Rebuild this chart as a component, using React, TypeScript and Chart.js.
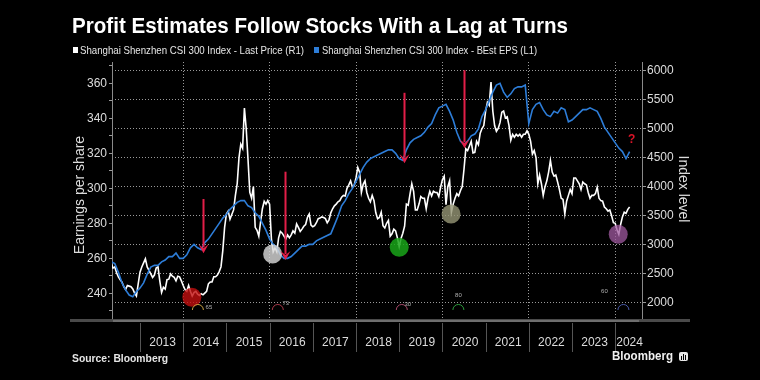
import React, { useEffect, useLayoutEffect, useRef } from "react";
import { Chart, registerables } from "chart.js";

Chart.register(...registerables);

// ---------- DATA ----------
// Semi-monthly price observations (1st and 16th of each month), from May 2012 to May 2024
const priceStart = 2012 + 4 / 12;
const priceStep = 1 / 24;
const priceValues = [
  // 2012 May-Dec
  2680, 2600, 2620, 2520, 2450, 2400, 2360, 2280, 2230, 2300, 2290, 2280, 2240, 2170, 2120, 2330,
  // 2013
  2530, 2620, 2690, 2760, 2620, 2560, 2500, 2440, 2480, 2600, 2620, 2380,
  2180, 2270, 2240, 2400, 2410, 2500, 2460, 2440, 2380, 2460, 2450, 2380,
  // 2014
  2300, 2230, 2200, 2300, 2200, 2120, 2180, 2200, 2150, 2130, 2160, 2140,
  2170, 2200, 2330, 2360, 2360, 2450, 2450, 2480, 2540, 2620, 2900, 3300,
  // 2015
  3530, 3580, 3440, 3520, 3600, 3850, 4050, 4500, 4730, 4660, 5350, 5000,
  4470, 3900, 3800, 4000, 3300, 3250, 3150, 3400, 3620, 3750, 3700, 3760,
  // 2016
  3700, 3100, 2880, 2950, 2880, 3120, 3230, 3200, 3150, 3100, 3170, 3120,
  3170, 3240, 3200, 3360, 3300, 3230, 3270, 3320, 3350, 3470, 3530, 3340,
  // 2017
  3310, 3330, 3380, 3450, 3460, 3480, 3470, 3450, 3380, 3430, 3550, 3620,
  3670, 3700, 3740, 3760, 3820, 3850, 3840, 3970, 4030, 4100, 3990, 4020,
  // 2018
  4150, 4330, 4250, 3900, 4040, 4100, 3900, 3800, 3740, 3850, 3760, 3550,
  3450, 3470, 3560, 3330, 3290, 3370, 3420, 3150, 3190, 3270, 3240, 3120,
  // 2019
  2970, 3110, 3200, 3320, 3700, 3680, 3870, 4050, 3920, 3600, 3600, 3700,
  3830, 3800, 3800, 3620, 3800, 3920, 3840, 3920, 3900, 3900, 3830, 3990,
  // 2020
  4120, 4180, 3690, 4000, 4100, 3560, 3700, 3800, 3880, 3840, 3930, 4000,
  4300, 4650, 4620, 4700, 4780, 4580, 4590, 4780, 4720, 4920, 5000, 5050,
  // 2021
  5300, 5450, 5400, 5800, 5300, 5050, 4950, 5000, 5100, 5280, 5300, 5180,
  5200, 5050, 4800, 4900, 4850, 4900, 4870, 4900, 4850, 4900, 4900, 4960,
  // 2022
  4900, 4780, 4560, 4620, 4500, 4050, 4200, 4050, 3850, 4000, 4100, 4250,
  4450, 4250, 4180, 4200, 4080, 3950, 3800, 3780, 3530, 3750, 3850, 3950,
  // 2023
  3880, 4150, 4150, 4100, 4050, 3950, 4080, 4050, 4030, 3900, 3800, 3850,
  3850, 3880, 3990, 3800, 3760, 3750, 3650, 3620, 3580, 3600, 3500, 3380,
  // 2024 Jan-Apr + May 1
  3370, 3260, 3180, 3350, 3480, 3560, 3540, 3610, 3650,
];

// Monthly best EPS estimates, May 2012 to May 2024
const epsStart = 2012 + 4 / 12;
const epsStep = 1 / 12;
const epsValues = [
  258, 257, 252, 246, 242, 239, 238, 241,
  243, 246, 251, 255, 256, 256, 258, 259, 261, 261, 263, 260,
  260, 262, 266, 268, 266, 265, 269, 271, 274, 277, 280, 283,
  285, 288, 290, 292, 293, 293, 290, 289, 286, 284, 280, 276,
  271, 268, 266, 262, 260, 260, 261, 263, 265, 267, 267, 268,
  268, 270, 271, 272, 273, 274, 279, 284, 290, 293, 297, 300,
  304, 308, 312, 315, 317, 318, 319, 320, 321, 322, 322, 320,
  317, 316, 322, 326, 328, 329, 330, 332, 335, 337, 342, 346,
  347, 348, 344, 339, 332, 327, 325, 327, 330, 331, 334, 341,
  345, 350, 355, 359, 360, 355, 352, 354, 357, 358, 358, 359,
  337, 345, 348, 349, 345, 342, 341, 344, 343, 346, 345, 338,
  339, 341, 343, 345, 345, 346, 345, 344, 340, 335, 332, 329,
  326, 323, 321, 317, 321,
];

const yearLabels = ["2013", "2014", "2015", "2016", "2017", "2018", "2019", "2020", "2021", "2022", "2023", "2024"];
const epsTicks = [230, 240, 250, 260, 270, 280, 290, 300, 310, 320, 330, 340, 350, 360, 370];
const priceTicks = [2000, 2500, 3000, 3500, 4000, 4500, 5000, 5500, 6000];
const xGridYears = [2014, 2016, 2018, 2020, 2022, 2024];

const seriesNames = [
  "Shanghai Shenzhen CSI 300 Index - Last Price (R1)",
  "Shanghai Shenzhen CSI 300 Index - BEst EPS (L1)",
];

// Annotations (in data units)
const troughDates = [2014.2, 2016.07, 2019.0, 2020.2, 2024.07];
const troughLevels = [2098, 2842, 2957, 3530, 3181];
const troughColors = [
  "rgba(195,15,15,0.8)",
  "rgba(215,215,215,0.82)",
  "rgba(25,165,25,0.85)",
  "rgba(150,150,118,0.8)",
  "rgba(160,90,160,0.75)",
];

const arrowDates = [2014.456, 2016.356, 2019.118, 2020.5];
const arrowFromEps = [293.9, 309.5, 354.6, 367.5];
const arrowToEps = [262.9, 259, 314.3, 322.9];

const cycleDates = [2014.34, 2016.19, 2019.06, 2020.37, 2024.19];
const cycleLabels = ["65", "73", "30", "80", "60"];
const cycleColors = ["#c9a040", "#a83848", "#a84868", "#2c9c3c", "#4a5aa8"];

const questionDate = 2024.38;
const questionEps = 327.6;

// ---------- CHART ----------
const FONT = "'Liberation Sans', Arial, sans-serif";
const GRID = "#9a9a9a";

function FitText(props: { text: string; left: number; top: number; width: number; style: any }) {
  const ref = useRef<HTMLSpanElement>(null);
  useLayoutEffect(() => {
    const el = ref.current;
    if (!el) return;
    el.style.transform = "none";
    const w = el.getBoundingClientRect().width;
    if (w > 0) el.style.transform = `scaleX(${props.width / w})`;
  }, []);
  return (
    <span
      ref={ref}
      style={{
        position: "absolute",
        left: props.left,
        top: props.top,
        whiteSpace: "nowrap",
        transformOrigin: "0 0",
        ...props.style,
      }}
    >
      {props.text}
    </span>
  );
}

export default function App() {
  const canvasRef = useRef<HTMLCanvasElement>(null);

  useEffect(() => {
    document.body.style.margin = "0";
    document.body.style.background = "#000";
    const canvas = canvasRef.current;
    if (!canvas) return;

    const priceData = priceValues.map((v, i) => ({ x: priceStart + i * priceStep, y: v }));
    const epsData = epsValues.map((v, i) => ({ x: epsStart + i * epsStep, y: v }));

    const overlay = {
      id: "overlay",
      afterDatasetsDraw(chart: any) {
        const { ctx, scales } = chart;
        const xs = scales.x, yl = scales.yL, yr = scales.yR;
        ctx.save();
        // trough circles
        troughDates.forEach((t, i) => {
          ctx.beginPath();
          ctx.arc(xs.getPixelForValue(t), yr.getPixelForValue(troughLevels[i]), 9.5, 0, Math.PI * 2);
          ctx.fillStyle = troughColors[i];
          ctx.fill();
        });
        // arrows
        ctx.strokeStyle = "rgb(226,30,72)";
        ctx.fillStyle = "rgb(226,30,72)";
        arrowDates.forEach((t, i) => {
          const x = Math.round(xs.getPixelForValue(t)) + 0.5;
          const y1 = yl.getPixelForValue(arrowFromEps[i]);
          const y2 = yl.getPixelForValue(arrowToEps[i]);
          ctx.lineWidth = 2;
          ctx.beginPath();
          ctx.moveTo(x, y1);
          ctx.lineTo(x, y2 - 6);
          ctx.stroke();
          ctx.beginPath();
          ctx.moveTo(x - 5, y2 - 9);
          ctx.lineTo(x, y2);
          ctx.lineTo(x + 5, y2 - 9);
          ctx.lineTo(x, y2 - 5);
          ctx.closePath();
          ctx.fill();
        });
        // cycle arcs
        const arcY = yr.getPixelForValue(1880);
        const labelOffsets = [[11, 0], [8, -4], [6, -3], [0, -12], [-19, -16]];
        cycleDates.forEach((t, i) => {
          const x = xs.getPixelForValue(t);
          ctx.beginPath();
          ctx.arc(x, arcY, 5.5, Math.PI, 0);
          ctx.strokeStyle = cycleColors[i];
          ctx.lineWidth = 1;
          ctx.stroke();
          ctx.fillStyle = "#b0b0b0";
          ctx.font = `6px ${FONT}`;
          ctx.textAlign = "center";
          ctx.textBaseline = "middle";
          ctx.fillText(cycleLabels[i], x + labelOffsets[i][0], arcY - 3 + labelOffsets[i][1]);
        });
        // question mark
        ctx.fillStyle = "rgb(220,20,40)";
        ctx.font = `bold 12px ${FONT}`;
        ctx.textAlign = "center";
        ctx.textBaseline = "middle";
        ctx.fillText("?", xs.getPixelForValue(questionDate), yl.getPixelForValue(questionEps));
        ctx.restore();
      },
      afterDraw(chart: any) {
        const { ctx, scales, chartArea } = chart;
        const xs = scales.x;
        ctx.save();
        // bottom bar
        ctx.fillStyle = "#4a4a4a";
        ctx.fillRect(70, chartArea.bottom + 1, 620, 3);
        ctx.fillStyle = "#6e6e6e";
        ctx.fillRect(chartArea.left + 1, chartArea.bottom + 2, chartArea.right - chartArea.left - 4, 2);
        // year separators and labels
        ctx.font = `12px ${FONT}`;
        ctx.fillStyle = "#dcdcdc";
        ctx.textAlign = "center";
        ctx.textBaseline = "middle";
        yearLabels.forEach((lab) => {
          const y = Number(lab);
          const x0 = xs.getPixelForValue(y);
          const x1 = Math.min(xs.getPixelForValue(y + 1), chartArea.right);
          ctx.strokeStyle = "#555";
          ctx.lineWidth = 1;
          ctx.beginPath();
          ctx.moveTo(Math.round(x0) + 0.5, chartArea.bottom + 5);
          ctx.lineTo(Math.round(x0) + 0.5, chartArea.bottom + 34);
          ctx.stroke();
          ctx.fillText(lab, (x0 + x1) / 2 + 1, chartArea.bottom + 25);
        });
        // axis titles
        ctx.font = `14px ${FONT}`;
        ctx.fillStyle = "#dcdcdc";
        ctx.save();
        ctx.translate(80, 195);
        ctx.rotate(-Math.PI / 2);
        ctx.fillText("Earnings per share", 0, 0);
        ctx.restore();
        ctx.save();
        ctx.translate(683, 189);
        ctx.rotate(Math.PI / 2);
        ctx.fillText("Index level", 0, 0);
        ctx.restore();
        ctx.restore();
      },
    };

    const chart = new Chart(canvas, {
      type: "line",
      data: {
        datasets: [
          {
            label: seriesNames[1],
            data: epsData,
            yAxisID: "yL",
            borderColor: "#2d7dd8",
            borderWidth: 1.6,
            pointRadius: 0,
            tension: 0,
            order: 0,
          },
          {
            label: seriesNames[0],
            data: priceData,
            yAxisID: "yR",
            borderColor: "#ffffff",
            borderWidth: 1.6,
            pointRadius: 0,
            tension: 0,
            order: 1,
          },
        ],
      },
      options: {
        responsive: false,
        animation: false,
        devicePixelRatio: 1,
        layout: { padding: { top: 62, left: 0, right: 0, bottom: 0 } },
        plugins: { legend: { display: false }, tooltip: { enabled: false }, title: { display: false } },
        scales: {
          x: {
            type: "linear",
            min: 2012.352,
            max: 2024.62,
            afterBuildTicks: (s: any) => {
              s.ticks = xGridYears.map((v) => ({ value: v }));
            },
            afterFit: (s: any) => {
              s.height = 62;
            },
            ticks: { display: false },
            grid: { display: true, drawOnChartArea: true, color: GRID, drawTicks: false, lineWidth: 1 },
            border: { display: false, dash: [1, 2] },
          },
          yL: {
            type: "linear",
            position: "left",
            min: 225.9,
            max: 372.2,
            afterBuildTicks: (s: any) => {
              s.ticks = epsTicks.map((v) => ({ value: v }));
            },
            afterFit: (s: any) => {
              s.width = 112;
            },
            ticks: {
              color: "#dcdcdc",
              font: { family: FONT, size: 12 },
              padding: 2,
              callback: (v: any) => (Number(v) % 20 === 0 ? String(v) : ""),
            },
            grid: { drawOnChartArea: false, tickLength: 3, tickColor: "#9a9a9a" },
            border: { display: true, color: "#8a8a8a", width: 1 },
          },
          yR: {
            type: "linear",
            position: "right",
            min: 1742,
            max: 6143,
            afterBuildTicks: (s: any) => {
              s.ticks = priceTicks.map((v) => ({ value: v }));
            },
            afterFit: (s: any) => {
              s.width = 118;
            },
            ticks: {
              color: "#dcdcdc",
              font: { family: FONT, size: 12 },
              padding: 1,
              callback: (v: any) => String(v),
            },
            grid: { display: true, drawOnChartArea: true, color: GRID, tickLength: 4, tickColor: "#9a9a9a" },
            border: { display: true, color: "#8a8a8a", width: 1, dash: [1, 2] },
          },
        },
      },
      plugins: [overlay],
    });

    return () => chart.destroy();
  }, []);

  return (
    <div style={{ position: "relative", width: 760, height: 380, background: "#000", overflow: "hidden" }}>
      <canvas ref={canvasRef} width={760} height={380} style={{ position: "absolute", left: 0, top: 0, display: "block" }} />
      <FitText
        text="Profit Estimates Follow Stocks With a Lag at Turns"
        left={72}
        top={14}
        width={496}
        style={{ color: "#fff", fontFamily: FONT, fontWeight: 700, fontSize: 22, lineHeight: "24px" }}
      />
      <div style={{ position: "absolute", left: 73, top: 47, width: 5, height: 6, background: "#fff" }} />
      <FitText
        text={seriesNames[0]}
        left={80}
        top={44}
        width={224}
        style={{ color: "#e6e6e6", fontFamily: FONT, fontSize: 11, lineHeight: "13px" }}
      />
      <div style={{ position: "absolute", left: 314, top: 47, width: 5, height: 6, background: "#2d7dd8" }} />
      <FitText
        text={seriesNames[1]}
        left={322}
        top={44}
        width={215}
        style={{ color: "#e6e6e6", fontFamily: FONT, fontSize: 11, lineHeight: "13px" }}
      />
      <FitText
        text="Source: Bloomberg"
        left={72}
        top={352}
        width={96}
        style={{ color: "#e6e6e6", fontFamily: FONT, fontWeight: 700, fontSize: 11, lineHeight: "12px" }}
      />
      <FitText
        text="Bloomberg"
        left={612}
        top={349}
        width={61}
        style={{ color: "#f0f0f0", fontFamily: FONT, fontWeight: 700, fontSize: 13, lineHeight: "14px" }}
      />
      <div
        style={{
          position: "absolute",
          left: 679,
          top: 352,
          width: 9,
          height: 9,
          background: "#e8e8e8",
          borderRadius: 2,
        }}
      >
        <div style={{ position: "absolute", left: 2, top: 4, width: 1, height: 4, background: "#000" }} />
        <div style={{ position: "absolute", left: 4, top: 2, width: 1, height: 6, background: "#000" }} />
        <div style={{ position: "absolute", left: 6, top: 3, width: 1, height: 5, background: "#000" }} />
      </div>
    </div>
  );
}
